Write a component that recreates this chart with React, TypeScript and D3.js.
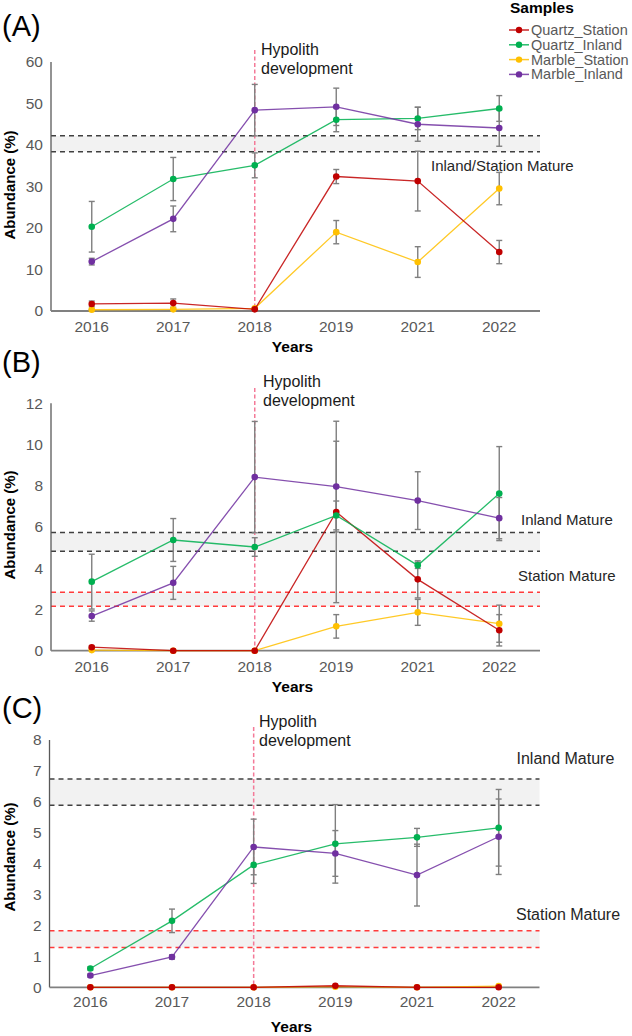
import React from "react";
import * as d3 from "d3";

const years = ["2016", "2017", "2018", "2019", "2021", "2022"];
const seriesNames = ["Quartz_Station", "Quartz_Inland", "Marble_Station", "Marble_Inland"];
const seriesColors = ["#c00000", "#00b050", "#ffc000", "#7030a0"];

// Panel A
const quartzStationA = [1.7, 1.9, 0.4, 32.4, 31.3, 14.2];
const quartzStationAErr = [0.7, 1.0, 0.2, 1.7, 7.2, 2.8];
const quartzInlandA = [20.3, 31.8, 35.1, 46.1, 46.4, 48.8];
const quartzInlandAErr = [6.1, 5.2, 3.0, 2.9, 2.7, 3.1];
const marbleStationA = [0.3, 0.4, 0.65, 19.0, 11.8, 29.5];
const marbleStationAErr = [0.1, 0.1, 0.1, 2.8, 3.7, 3.9];
const marbleInlandA = [11.9, 22.2, 48.4, 49.2, 45.0, 44.1];
const marbleInlandAErr = [0.8, 3.1, 6.2, 4.5, 4.1, 4.4];
const yTicksA = [0, 10, 20, 30, 40, 50, 60];
const inlandMatureA = [38.4, 42.2];

// Panel B
const quartzStationB = [0.17, 0, 0, 6.73, 3.46, 0.99];
const quartzStationBErr = [0.05, 0, 0, 4.4, 0.9, 0.76];
const quartzInlandB = [3.35, 5.37, 5.03, 6.56, 4.14, 7.62];
const quartzInlandBErr = [1.33, 1.04, 0.45, 0.7, 0.15, 2.28];
const marbleStationB = [0.03, 0, 0, 1.18, 1.86, 1.31];
const marbleStationBErr = [0, 0, 0, 0.57, 0.63, 0.9];
const marbleInlandB = [1.68, 3.29, 8.42, 7.96, 7.28, 6.43];
const marbleInlandBErr = [0.25, 0.8, 2.7, 2.2, 1.4, 1.0];
const yTicksB = [0, 2, 4, 6, 8, 10, 12];
const inlandMatureB = [4.82, 5.73];
const stationMatureB = [2.15, 2.83];

// Panel C
const quartzStationC = [0, 0, 0, 0.05, 0, 0];
const quartzStationCErr = [0, 0, 0, 0, 0, 0];
const quartzInlandC = [0.61, 2.15, 3.96, 4.64, 4.85, 5.16];
const quartzInlandCErr = [0.05, 0.38, 0.6, 1.27, 0.29, 1.24];
const marbleStationC = [0, 0, 0, 0.02, 0, 0.04];
const marbleStationCErr = [0, 0, 0, 0, 0, 0];
const marbleInlandC = [0.38, 0.98, 4.54, 4.33, 3.63, 4.87];
const marbleInlandCErr = [0.05, 0.07, 0.9, 0.74, 1.0, 1.22];
const yTicksC = [0, 1, 2, 3, 4, 5, 6, 7, 8];
const inlandMatureC = [5.89, 6.74];
const stationMatureC = [1.29, 1.83];

const FONT = "'Liberation Sans', Arial, sans-serif";

type Label = { text: string; x: number; y: number; size: number };
type Panel = {
  letter: string;
  letterY: number;
  left: number;
  right: number;
  top: number;
  bottom: number;
  ticks: number[];
  series: number[][];
  errors: number[][];
  inland: number[];
  station: number[] | null;
  inlandLabel: Label;
  stationLabel: Label | null;
  hypTop: number;
  hypTextX: number;
  hypTextY: number;
  tickBaseline: number;
  yearsY: number;
  abundY: number;
};

const panels: Panel[] = [
  {
    letter: "(A)", letterY: 36, left: 51, right: 540, top: 62, bottom: 311,
    ticks: yTicksA,
    series: [quartzStationA, quartzInlandA, marbleStationA, marbleInlandA],
    errors: [quartzStationAErr, quartzInlandAErr, marbleStationAErr, marbleInlandAErr],
    inland: inlandMatureA, station: null,
    inlandLabel: { text: "Inland/Station Mature", x: 431, y: 171, size: 15 },
    stationLabel: null,
    hypTop: 50, hypTextX: 261, hypTextY: 55, tickBaseline: 332, yearsY: 352, abundY: 185,
  },
  {
    letter: "(B)", letterY: 372, left: 51, right: 540, top: 403.3, bottom: 650.7,
    ticks: yTicksB,
    series: [quartzStationB, quartzInlandB, marbleStationB, marbleInlandB],
    errors: [quartzStationBErr, quartzInlandBErr, marbleStationBErr, marbleInlandBErr],
    inland: inlandMatureB, station: stationMatureB,
    inlandLabel: { text: "Inland Mature", x: 521, y: 525, size: 15 },
    stationLabel: { text: "Station Mature", x: 518, y: 580.5, size: 15 },
    hypTop: 388, hypTextX: 263, hypTextY: 387, tickBaseline: 671.5, yearsY: 692, abundY: 525,
  },
  {
    letter: "(C)", letterY: 718, left: 49.5, right: 539.5, top: 740, bottom: 987.3,
    ticks: yTicksC,
    series: [quartzStationC, quartzInlandC, marbleStationC, marbleInlandC],
    errors: [quartzStationCErr, quartzInlandCErr, marbleStationCErr, marbleInlandCErr],
    inland: inlandMatureC, station: stationMatureC,
    inlandLabel: { text: "Inland Mature", x: 516.5, y: 764, size: 16 },
    stationLabel: { text: "Station Mature", x: 516, y: 920, size: 16 },
    hypTop: 727, hypTextX: 259, hypTextY: 727, tickBaseline: 1007, yearsY: 1032, abundY: 857,
  },
];

const drawOrder = [2, 0, 1, 3];

function PanelView({ p }: { p: Panel }) {
  const x = d3.scalePoint<string>().domain(years).range([p.left, p.right]).padding(0.5);
  const yMax = p.ticks[p.ticks.length - 1];
  const y = d3.scaleLinear().domain([0, yMax]).range([p.bottom, p.top]);
  const line = d3
    .line<number>()
    .x((_, i) => x(years[i]) as number)
    .y((v) => y(v));
  const band = (vals: number[], color: string, key: string) => (
    <g key={key}>
      <rect x={p.left} width={p.right - p.left} y={y(vals[1])} height={y(vals[0]) - y(vals[1])} fill="#f2f2f2" />
      {vals.map((v, i) => (
        <line key={i} x1={p.left} x2={p.right} y1={y(v)} y2={y(v)} stroke={color} strokeWidth={1.5} strokeDasharray="5,4" />
      ))}
    </g>
  );
  const hx = x("2018") as number;
  const midX = (p.left + p.right) / 2;
  return (
    <g>
      <text x={2} y={p.letterY} fontSize={29} fontFamily={FONT} fill="#000">{p.letter}</text>
      {band(p.inland, "#404040", "inl")}
      {p.station && band(p.station, "#ff3b3b", "sta")}
      <line x1={p.left} x2={p.left} y1={p.top} y2={p.bottom} stroke="#595959" strokeWidth={1.3} />
      <line x1={p.left} x2={p.right} y1={p.bottom} y2={p.bottom} stroke="#808080" strokeWidth={1.8} />
      {p.ticks.map((t) => (
        <text key={t} x={p.left - 8} y={y(t)} dy="0.35em" textAnchor="end" fontSize={15.5} fontFamily={FONT} fill="#595959">{t}</text>
      ))}
      {years.map((yr) => (
        <text key={yr} x={x(yr) as number} y={p.tickBaseline} textAnchor="middle" fontSize={15.5} fontFamily={FONT} fill="#595959">{yr}</text>
      ))}
      <text x={midX - 3} y={p.yearsY} textAnchor="middle" fontSize={15.5} fontWeight="bold" fontFamily={FONT} fill="#000">Years</text>
      <text transform={`translate(15,${p.abundY}) rotate(-90)`} textAnchor="middle" fontSize={15} fontWeight="bold" fontFamily={FONT} fill="#000">Abundance (%)</text>
      <line x1={hx} x2={hx} y1={p.hypTop} y2={p.bottom} stroke="#f47a98" strokeWidth={1.5} strokeDasharray="4,2.5" />
      <text x={p.hypTextX} y={p.hypTextY} fontSize={16} fontFamily={FONT} fill="#1a1a1a">Hypolith</text>
      <text x={p.hypTextX} y={p.hypTextY + 18.5} fontSize={16} fontFamily={FONT} fill="#1a1a1a">development</text>
      <text x={p.inlandLabel.x} y={p.inlandLabel.y} fontSize={p.inlandLabel.size} fontFamily={FONT} fill="#262626">{p.inlandLabel.text}</text>
      {p.stationLabel && (
        <text x={p.stationLabel.x} y={p.stationLabel.y} fontSize={p.stationLabel.size} fontFamily={FONT} fill="#262626">{p.stationLabel.text}</text>
      )}
      {drawOrder.map((si) =>
        p.series[si].map((v, i) => {
          const e = p.errors[si][i];
          if (!e) return null;
          const cx = x(years[i]) as number;
          const y1 = y(v + e);
          const y2 = y(Math.max(0, v - e));
          return (
            <g key={`e${si}-${i}`} stroke="#7f7f7f" strokeWidth={1.4}>
              <line x1={cx} x2={cx} y1={y1} y2={y2} />
              <line x1={cx - 3} x2={cx + 3} y1={y1} y2={y1} />
              <line x1={cx - 3} x2={cx + 3} y1={y2} y2={y2} />
            </g>
          );
        })
      )}
      {drawOrder.map((si) => (
        <g key={`s${si}`}>
          <path d={line(p.series[si]) as string} fill="none" stroke={seriesColors[si]} strokeWidth={1.3} strokeOpacity={0.85} />
          {p.series[si].map((v, i) => (
            <circle key={i} cx={x(years[i]) as number} cy={y(v)} r={3.3} fill={seriesColors[si]} />
          ))}
        </g>
      ))}
    </g>
  );
}

function Legend() {
  const x0 = 509;
  const y0 = 30;
  const step = 14.8;
  return (
    <g>
      <text x={510} y={13} fontSize={15.5} fontWeight="bold" fontFamily={FONT} fill="#000">Samples</text>
      {seriesNames.map((n, i) => (
        <g key={n}>
          <line x1={x0} x2={x0 + 20} y1={y0 + i * step} y2={y0 + i * step} stroke={seriesColors[i]} strokeWidth={1.5} strokeOpacity={0.85} />
          <circle cx={x0 + 10} cy={y0 + i * step} r={3.2} fill={seriesColors[i]} />
          <text x={x0 + 22} y={y0 + i * step} dy="0.35em" fontSize={14.5} fontFamily={FONT} fill="#595959">{n}</text>
        </g>
      ))}
    </g>
  );
}

export default function App() {
  return (
    <svg width={632} height={1036} style={{ position: "absolute", left: 0, top: 0, background: "#fff" }}>
      <rect width={632} height={1036} fill="#fff" />
      {panels.map((p) => (
        <PanelView key={p.letter} p={p} />
      ))}
      <Legend />
    </svg>
  );
}
